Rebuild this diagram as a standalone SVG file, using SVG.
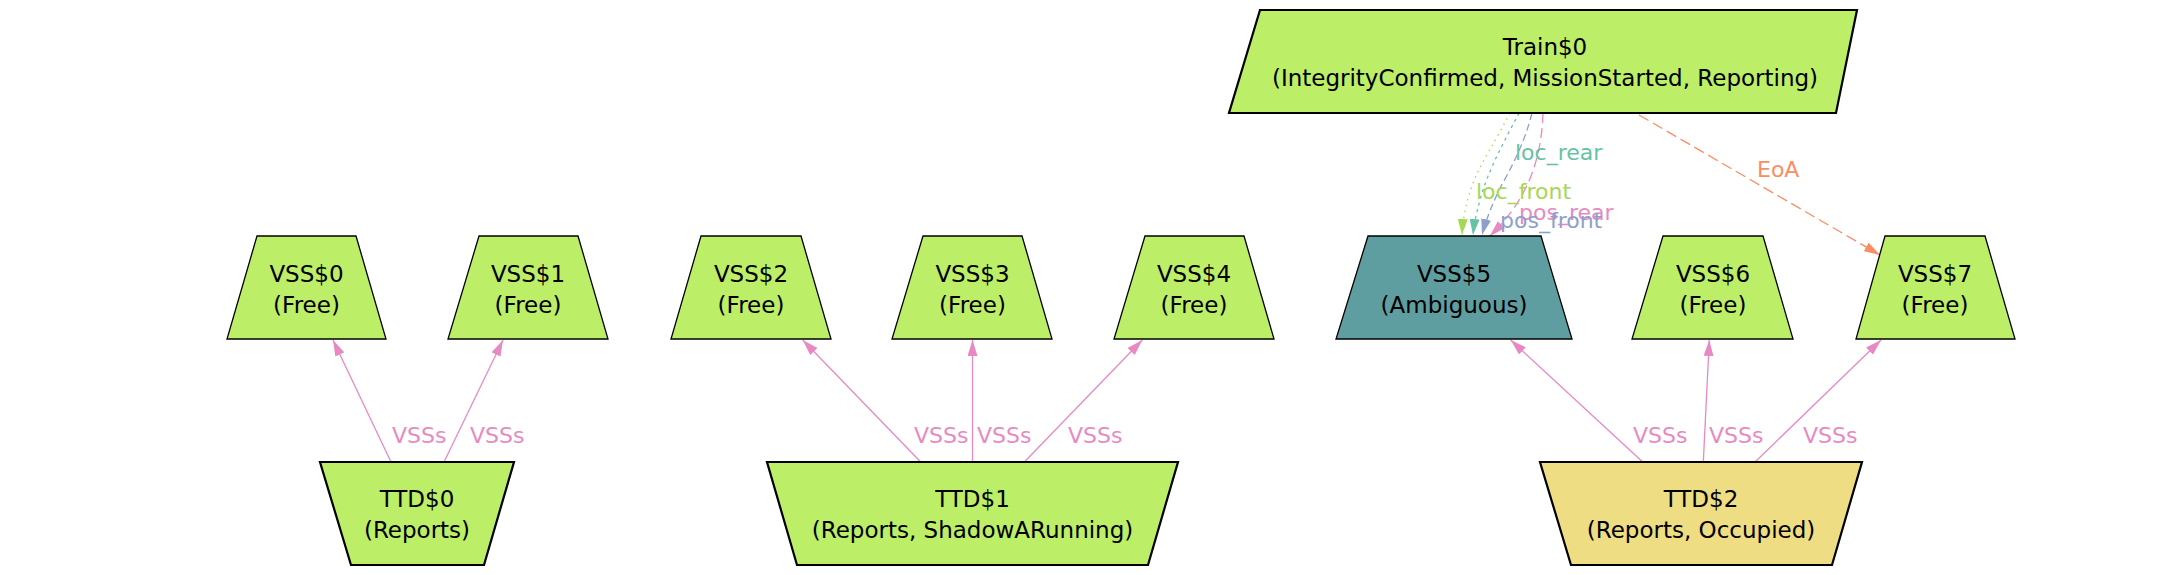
<svg xmlns="http://www.w3.org/2000/svg" width="2180" height="575" viewBox="0 0 2180 575">
<style>
.n{stroke:#000;stroke-width:1.3;}
.thick{stroke-width:2.2;}
.green{fill:#bcee68;}
.teal{fill:#5f9ea0;}
.gold{fill:#eedd82;}
.t{font-family:"DejaVu Sans",Verdana,sans-serif;font-size:23px;fill:#000;text-anchor:middle;}
.l{font-family:"DejaVu Sans",Verdana,sans-serif;font-size:22px;}
.e{fill:none;stroke-width:1.3;}
.pk{stroke:#e78ac3;}
</style>
<defs>
<marker id="aPink" markerUnits="userSpaceOnUse" markerWidth="16" markerHeight="10" refX="16" refY="5" orient="auto"><path d="M0,0 L16,5 L0,10 Z" fill="#e78ac3"/></marker>
<marker id="aGreen" markerUnits="userSpaceOnUse" markerWidth="16" markerHeight="10" refX="16" refY="5" orient="auto"><path d="M0,0 L16,5 L0,10 Z" fill="#a6d854"/></marker>
<marker id="aTeal" markerUnits="userSpaceOnUse" markerWidth="16" markerHeight="10" refX="16" refY="5" orient="auto"><path d="M0,0 L16,5 L0,10 Z" fill="#66c2a5"/></marker>
<marker id="aBlue" markerUnits="userSpaceOnUse" markerWidth="16" markerHeight="10" refX="16" refY="5" orient="auto"><path d="M0,0 L16,5 L0,10 Z" fill="#8da0cb"/></marker>
<marker id="aOrange" markerUnits="userSpaceOnUse" markerWidth="16" markerHeight="10" refX="16" refY="5" orient="auto"><path d="M0,0 L16,5 L0,10 Z" fill="#fc8d62"/></marker>
</defs>
<rect width="2180" height="575" fill="#fff"/>

<g id="connectors">
  <g class="e pk" marker-end="url(#aPink)">
    <path d="M391,462 L333,340"/>
    <path d="M444,462 L503,340"/>
    <path d="M920.7,462 L802.7,340"/>
    <path d="M972.5,462 L972.5,340"/>
    <path d="M1024.3,462 L1142.3,340"/>
    <path d="M1642.7,462 L1510.7,340"/>
    <path d="M1703.3,462 L1709.3,340"/>
    <path d="M1755,462 L1881,340"/>
  </g>
  <path class="e" stroke="#a6d854" stroke-dasharray="1.5,4.5" marker-end="url(#aGreen)" d="M1510,113 C1496,140 1484,158 1476,176 C1468,194 1463,215 1462,235"/>
  <path class="e" stroke="#66c2a5" stroke-dasharray="3,4" marker-end="url(#aTeal)" d="M1519,113 C1505,140 1488,170 1480,200 C1476,215 1474,225 1473,235"/>
  <path class="e" stroke="#8da0cb" stroke-dasharray="7,4" marker-end="url(#aBlue)" d="M1532,113 C1524,145 1510,170 1500,188 C1492,205 1486,220 1482,235"/>
  <path class="e" stroke="#e78ac3" stroke-dasharray="10,5" marker-end="url(#aPink)" d="M1543,113 C1542,145 1535,172 1522,195 C1512,213 1500,226 1490,236"/>
  <path class="e" stroke="#fc8d62" stroke-dasharray="11,5" marker-end="url(#aOrange)" d="M1639,115 L1880,255"/>
  <g class="l" fill="#e78ac3">
    <text x="392" y="443">VSSs</text>
    <text x="470" y="443">VSSs</text>
    <text x="914" y="443">VSSs</text>
    <text x="977" y="443">VSSs</text>
    <text x="1068" y="443">VSSs</text>
    <text x="1633" y="443">VSSs</text>
    <text x="1709" y="443">VSSs</text>
    <text x="1803" y="443">VSSs</text>
  </g>
  <text class="l" x="1515" y="160" fill="#66c2a5">loc_rear</text>
  <text class="l" x="1476" y="199" fill="#a6d854">loc_front</text>
  <text class="l" x="1519" y="220" fill="#e78ac3">pos_rear</text>
  <text class="l" x="1500" y="228" fill="#8da0cb">pos_front</text>
  <text class="l" x="1757" y="177" fill="#fc8d62">EoA</text>
</g>

<g id="Train0">
  <polygon class="n thick green" points="1260,10 1857,10 1836,113 1229,113"/>
  <text class="t" x="1545" y="55">Train$0</text>
  <text class="t" x="1545" y="86">(IntegrityConfirmed, MissionStarted, Reporting)</text>
</g>

<g id="VSS0">
  <polygon class="n green" points="257,236 356,236 386,339 227,339"/>
  <text class="t" x="306.5" y="282">VSS$0</text>
  <text class="t" x="306.5" y="313">(Free)</text>
</g>
<g id="VSS1">
  <polygon class="n green" points="479,236 578,236 608,339 448,339"/>
  <text class="t" x="528" y="282">VSS$1</text>
  <text class="t" x="528" y="313">(Free)</text>
</g>
<g id="VSS2">
  <polygon class="n green" points="701,236 801,236 831,339 671,339"/>
  <text class="t" x="751" y="282">VSS$2</text>
  <text class="t" x="751" y="313">(Free)</text>
</g>
<g id="VSS3">
  <polygon class="n green" points="923,236 1022,236 1052,339 892,339"/>
  <text class="t" x="972.5" y="282">VSS$3</text>
  <text class="t" x="972.5" y="313">(Free)</text>
</g>
<g id="VSS4">
  <polygon class="n green" points="1145,236 1244,236 1274,339 1114,339"/>
  <text class="t" x="1194" y="282">VSS$4</text>
  <text class="t" x="1194" y="313">(Free)</text>
</g>
<g id="VSS5">
  <polygon class="n teal" points="1368,236 1541,236 1572,339 1336,339"/>
  <text class="t" x="1454" y="282">VSS$5</text>
  <text class="t" x="1454" y="313">(Ambiguous)</text>
</g>
<g id="VSS6">
  <polygon class="n green" points="1663,236 1763,236 1793,339 1632,339"/>
  <text class="t" x="1713" y="282">VSS$6</text>
  <text class="t" x="1713" y="313">(Free)</text>
</g>
<g id="VSS7">
  <polygon class="n green" points="1885,236 1985,236 2015,339 1856,339"/>
  <text class="t" x="1935" y="282">VSS$7</text>
  <text class="t" x="1935" y="313">(Free)</text>
</g>

<g id="TTD0">
  <polygon class="n thick green" points="320,462 514,462 484,565 351,565"/>
  <text class="t" x="417" y="507">TTD$0</text>
  <text class="t" x="417" y="538">(Reports)</text>
</g>
<g id="TTD1">
  <polygon class="n thick green" points="767,462 1178,462 1148,565 797,565"/>
  <text class="t" x="972.5" y="507">TTD$1</text>
  <text class="t" x="972.5" y="538">(Reports, ShadowARunning)</text>
</g>
<g id="TTD2">
  <polygon class="n thick gold" points="1540,462 1862,462 1832,565 1571,565"/>
  <text class="t" x="1701" y="507">TTD$2</text>
  <text class="t" x="1701" y="538">(Reports, Occupied)</text>
</g>
</svg>
